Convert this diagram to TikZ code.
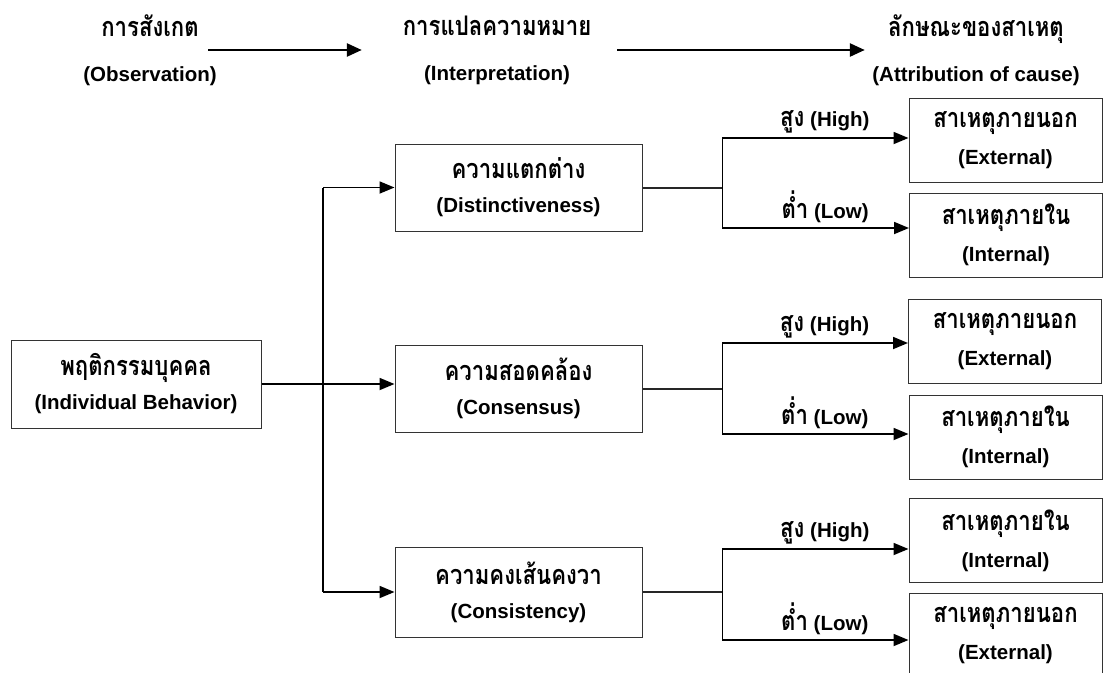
\documentclass[tikz,border=0pt]{standalone}
\usepackage{fontspec}
\setmainfont{Liberation Sans}
\newfontfamily\thaifont[Script=Thai,FakeStretch=0.82]{Loma}
\usetikzlibrary{arrows.meta}
% font switches: Thai text and bold Latin text
\newcommand\tx{\thaifont\fontsize{27}{30}\selectfont}
\newcommand\ex{\bfseries\fontsize{20.5}{24}\selectfont}

\begin{document}
\begin{tikzpicture}[x=1pt,y=-1pt,
  hdr/.style={inner sep=0pt,align=center,font=\ex},
  box/.style={draw=black!80,line width=1pt,inner sep=0pt,align=center,font=\ex},
  midbox/.style={box,minimum width=247,minimum height=87},
  resbox/.style={box,minimum width=193,minimum height=84},
  harrow/.style={line width=2.6pt,-{Triangle[length=15pt,width=13pt]}},
  arr/.style={line width=1.8pt,-{Triangle[length=15pt,width=12pt]}},
  conn/.style={line width=2pt,draw=black!85},
  lbl/.style={above=4pt,inner sep=0pt,font=\ex}
]
\useasboundingbox (0,0) rectangle (1116,672);

% column headings
\node[hdr,minimum width=110] (obs) at (150,50) {\tx การสังเกต\\[21pt]\ex (Observation)};
\node[hdr,minimum width=240] (interp) at (497,50) {\tx การแปลความหมาย\\[21pt]\ex (Interpretation)};
\node[hdr,minimum width=226] (attr) at (976,50) {\tx ลักษณะของสาเหตุ\\[21pt]\ex (Attribution of cause)};
\draw[harrow,shorten >=15pt] ([xshift=-8.5pt]obs.east) -- (interp.west);
\draw[harrow] (interp.east) -- ([xshift=2pt]attr.west);

% behaviour and the three kinds of information
\node[box,minimum width=250,minimum height=88] (beh) at (136,384) {\tx พฤติกรรมบุคคล\\[10pt]\ex (Individual Behavior)};
\node[midbox] (dist) at (518.5,187.5) {\tx ความแตกต่าง\\[10pt]\ex (Distinctiveness)};
\node[midbox] (cons) at (518.5,388.5) {\tx ความสอดคล้อง\\[10pt]\ex (Consensus)};
\node[midbox,minimum height=90] (consis) at (518.5,592) {\tx ความคงเส้นคงวา\\[10pt]\ex (Consistency)};

% attributed causes
\node[resbox] (ext1) at (1005.5,140) {\tx สาเหตุภายนอก\\[13pt]\ex (External)};
\node[resbox] (int1) at (1006,235) {\tx สาเหตุภายใน\\[13pt]\ex (Internal)};
\node[resbox] (ext2) at (1005,341) {\tx สาเหตุภายนอก\\[13pt]\ex (External)};
\node[resbox] (int2) at (1005.5,437) {\tx สาเหตุภายใน\\[13pt]\ex (Internal)};
\node[resbox] (int3) at (1005.5,540.5) {\tx สาเหตุภายใน\\[13pt]\ex (Internal)};
\node[resbox] (ext3) at (1005.5,635) {\tx สาเหตุภายนอก\\[13pt]\ex (External)};

% trunk from behaviour to the three boxes
\coordinate (tr) at (323,384);
\draw[line width=1.8pt] (tr |- dist.west) -- (tr |- consis.west);
\draw[arr] (tr |- dist.west) -- (dist.west);
\draw[arr] (beh.east) -- (beh.east -| cons.west);
\draw[arr] (tr |- consis.west) -- (consis.west);

% high / low branches
\path (dist.east) -- ++(80,0) coordinate (j1);
\path (cons.east) -- ++(80,0) coordinate (j2);
\path (consis.east) -- ++(80,0) coordinate (j3);
\draw[conn] (dist.east) -- (j1);
\draw[conn] (cons.east) -- (j2);
\draw[conn] (consis.east) -- (j3);

\draw[arr] (j1) |- node[lbl,pos=.775] {{\tx สูง} (High)} ([yshift=2pt]ext1.west);
\draw[arr] (j1) |- node[lbl,pos=.775] {{\tx ต่ำ} (Low)} ([yshift=7pt]int1.west);
\draw[arr] (j2) |- node[lbl,pos=.775] {{\tx สูง} (High)} ([yshift=-2pt]ext2.west);
\draw[arr] (j2) |- node[lbl,pos=.775] {{\tx ต่ำ} (Low)} ([yshift=3pt]int2.west);
\draw[arr] (j3) |- node[lbl,pos=.775] {{\tx สูง} (High)} ([yshift=-8.5pt]int3.west);
\draw[arr] (j3) |- node[lbl,pos=.775] {{\tx ต่ำ} (Low)} ([yshift=-5pt]ext3.west);
\end{tikzpicture}
\end{document}
